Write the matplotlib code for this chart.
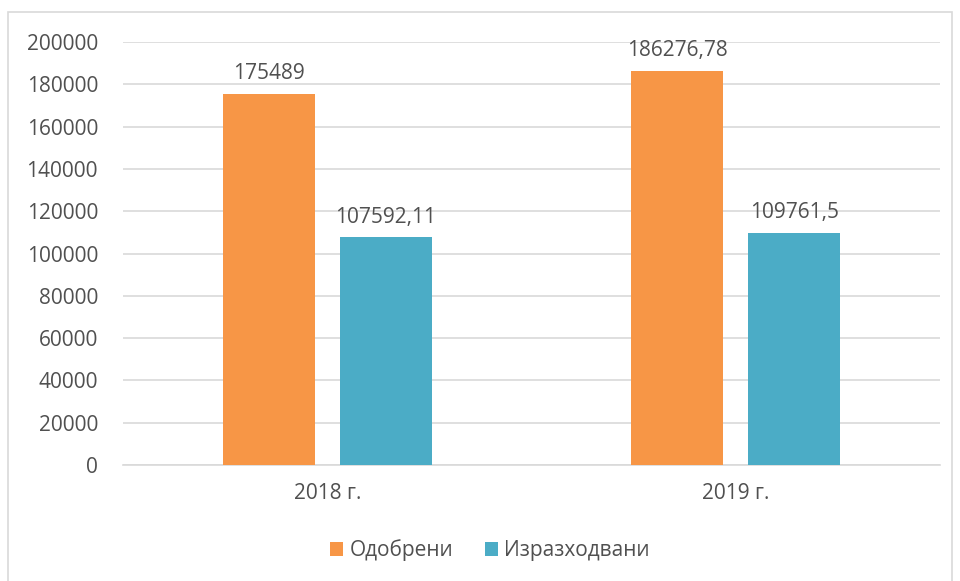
import numpy as np
import matplotlib.pyplot as plt
from matplotlib.patches import Rectangle

# Data
years = ['2018 г.', '2019 г.']
approved = [175489, 186276.78]
spent = [107592.11, 109761.5]
approved_labels = ['175489', '186276,78']
spent_labels = ['107592,11', '109761,5']

plt.rcParams['font.family'] = ['Open Sans', 'DejaVu Sans']
txt = '#505050'
orange = '#F79646'
teal = '#4BACC6'
fs = 15

fig = plt.figure(figsize=(9.6, 5.81), dpi=100)
ax = fig.add_axes([123/960, 1-465/581, (940-123)/960, (465-42)/581])

# outer chart border
fig.patches.append(Rectangle((8/960, -0.01), (952-8)/960, 1-12/581+0.01,
                             transform=fig.transFigure, fill=False,
                             edgecolor='#D9D9D9', linewidth=1.2))

x = np.arange(len(years))
w = 0.225
off = 0.143
b1 = ax.bar(x - off, approved, w, color=orange, label='Одобрени', zorder=3)
b2 = ax.bar(x + off, spent, w, color=teal, label='Изразходвани', zorder=3)

for bars, labels in [(b1, approved_labels), (b2, spent_labels)]:
    for b, lab in zip(bars, labels):
        ax.annotate(lab, (b.get_x() + b.get_width()/2, b.get_height()),
                    xytext=(0, 7), textcoords='offset points',
                    ha='center', va='bottom', fontsize=fs, color=txt)

ax.set_xlim(-0.5, 1.5)
ax.set_ylim(0, 200000)
ax.set_yticks(np.arange(0, 200001, 20000))
ax.set_xticks(x)
ax.set_xticklabels(years)
ax.yaxis.grid(True, color='#D9D9D9', linewidth=1.2, zorder=0)
for s in ['top', 'right', 'left']:
    ax.spines[s].set_visible(False)
ax.spines['bottom'].set_color('#D9D9D9')
ax.spines['bottom'].set_linewidth(1.2)
ax.tick_params(axis='both', length=0, labelsize=fs, labelcolor=txt)
ax.tick_params(axis='y', pad=18)
ax.tick_params(axis='x', pad=13)

fig.legend(loc='center', bbox_to_anchor=(490/960, 1-550/581), ncol=2,
           frameon=False, fontsize=fs, labelcolor=txt,
           handlelength=0.65, handleheight=0.65, handletextpad=0.3,
           columnspacing=1.5)

fig.savefig('out.png', dpi=100)
